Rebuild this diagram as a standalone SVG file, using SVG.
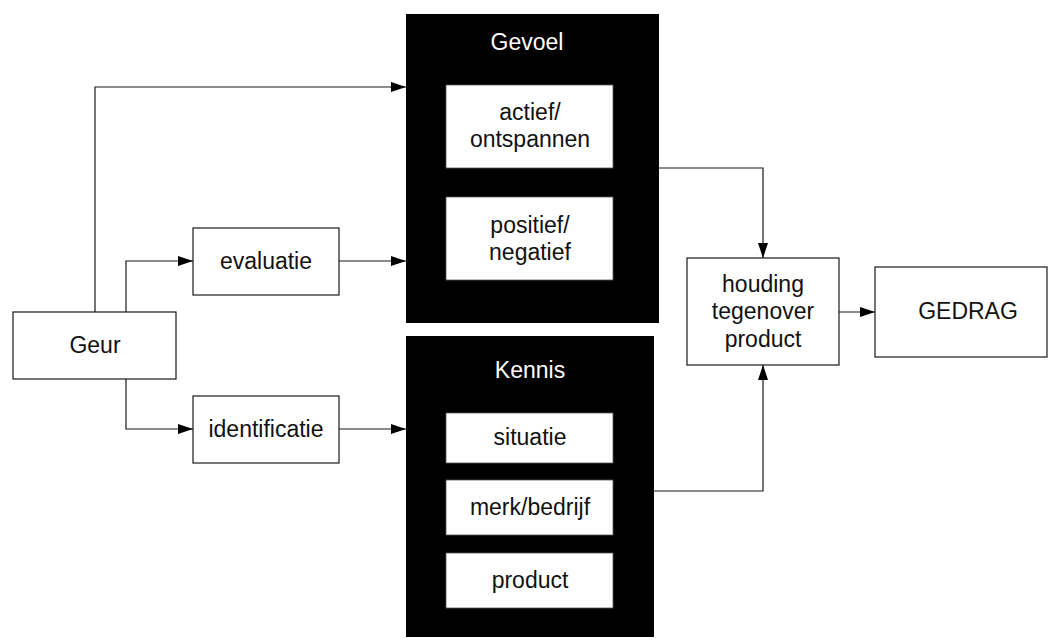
<svg xmlns="http://www.w3.org/2000/svg" width="1049" height="639" viewBox="0 0 1049 639">
  <style>
    .box { fill: #ffffff; stroke: #1a1a1a; stroke-width: 1.2; }
    .panel { fill: #000000; }
    .inner { fill: #ffffff; stroke: #555555; stroke-width: 0.8; }
    .lbl { font-family: "Liberation Sans", Arial, sans-serif; font-size: 23px; fill: #111111; text-anchor: middle; }
    .head { font-family: "Liberation Sans", Arial, sans-serif; font-size: 23px; fill: #ffffff; text-anchor: middle; }
    .wire { fill: none; stroke: #1a1a1a; stroke-width: 1.2; marker-end: url(#arrow); }
  </style>
  <defs>
    <marker id="arrow" viewBox="0 0 15 10" refX="15" refY="5" markerWidth="15" markerHeight="10" markerUnits="userSpaceOnUse" orient="auto">
      <path d="M0,0 L15,5 L0,10 Z" fill="#000000"/>
    </marker>
  </defs>

  <g id="connectors">
    <path class="wire" d="M95,312 V87 H406"/>
    <path class="wire" d="M126,312 V261 H193"/>
    <path class="wire" d="M339,261 H406"/>
    <path class="wire" d="M126,379 V429 H193"/>
    <path class="wire" d="M339,429 H406"/>
    <path class="wire" d="M659,168 H763 V258"/>
    <path class="wire" d="M654,491 H763 V365"/>
    <path class="wire" d="M839,312 H875"/>
  </g>

  <g id="geur">
    <rect class="box" x="13" y="312" width="163" height="67"/>
    <text class="lbl" x="95" y="353">Geur</text>
  </g>

  <g id="evaluatie">
    <rect class="box" x="193" y="228" width="146" height="67"/>
    <text class="lbl" x="266" y="269">evaluatie</text>
  </g>

  <g id="identificatie">
    <rect class="box" x="193" y="396" width="146" height="67"/>
    <text class="lbl" x="266" y="437">identificatie</text>
  </g>

  <g id="gevoel">
    <rect class="panel" x="406" y="14" width="253" height="309"/>
    <text class="head" x="527" y="50">Gevoel</text>
    <rect class="inner" x="446" y="85" width="167" height="83"/>
    <text class="lbl" x="530" y="120">actief/</text>
    <text class="lbl" x="530" y="147">ontspannen</text>
    <rect class="inner" x="446" y="197" width="167" height="83"/>
    <text class="lbl" x="530" y="233">positief/</text>
    <text class="lbl" x="530" y="260">negatief</text>
  </g>

  <g id="kennis">
    <rect class="panel" x="406" y="336" width="248" height="301"/>
    <text class="head" x="530" y="378">Kennis</text>
    <rect class="inner" x="446" y="413" width="167" height="50"/>
    <text class="lbl" x="530" y="445">situatie</text>
    <rect class="inner" x="446" y="480" width="167" height="55"/>
    <text class="lbl" x="530" y="515">merk/bedrijf</text>
    <rect class="inner" x="446" y="553" width="167" height="55"/>
    <text class="lbl" x="530" y="588">product</text>
  </g>

  <g id="houding">
    <rect class="box" x="687" y="258" width="152" height="107"/>
    <text class="lbl" x="763" y="292">houding</text>
    <text class="lbl" x="763" y="319">tegenover</text>
    <text class="lbl" x="763" y="347">product</text>
  </g>

  <g id="gedrag">
    <rect class="box" x="875" y="267" width="172" height="90"/>
    <text class="lbl" x="968" y="319">GEDRAG</text>
  </g>
</svg>
